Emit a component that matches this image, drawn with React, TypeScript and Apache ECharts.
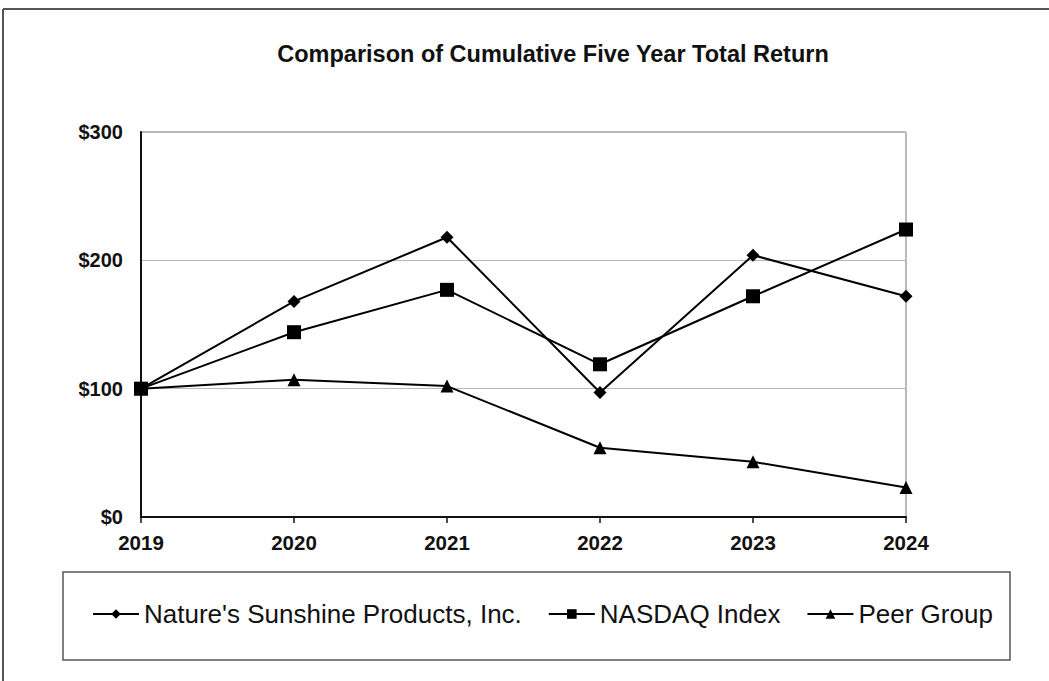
import React, { useEffect, useRef } from "react";
import * as echarts from "echarts";

const years = ["2019", "2020", "2021", "2022", "2023", "2024"];
const natures = [100, 168, 218, 97, 204, 172];
const nasdaq = [100, 144, 177, 119, 172, 224];
const peer = [100, 107, 102, 54, 43, 23];
const yTicks = [0, 100, 200, 300];

export default function App() {
  const ref = useRef<HTMLDivElement>(null);
  useEffect(() => {
    const chart = echarts.init(ref.current!, null, { renderer: "svg" });
    const font = "'Liberation Sans', Arial, sans-serif";
    const lineSeries = (name: string, data: number[], symbol: string, size: number) => ({
      name,
      type: "line",
      data,
      symbol,
      symbolSize: size,
      lineStyle: { color: "#000", width: 2 },
      itemStyle: { color: "#000" },
      emphasis: { disabled: true },
    });
    chart.setOption({
      animation: false,
      backgroundColor: "#fff",
      title: {
        text: "Comparison of Cumulative Five Year Total Return",
        left: 548,
        textAlign: "center",
        top: 37,
        textStyle: { fontFamily: font, fontSize: 23.5, fontWeight: "bold", color: "#111" },
      },
      grid: {
        left: 141,
        right: 143,
        top: 132,
        bottom: 164,
        show: true,
        borderColor: "#777",
        borderWidth: 1,
      },
      xAxis: {
        type: "category",
        data: years,
        boundaryGap: false,
        axisLine: { lineStyle: { color: "#111", width: 2 } },
        axisTick: { show: true, length: 6, lineStyle: { color: "#111", width: 1.5 } },
        axisLabel: { fontFamily: font, fontSize: 20.5, fontWeight: "bold", color: "#111", margin: 15 },
        splitLine: { show: false },
      },
      yAxis: {
        type: "value",
        min: yTicks[0],
        max: yTicks[yTicks.length - 1],
        interval: 100,
        axisLine: { show: true, lineStyle: { color: "#111", width: 2 } },
        axisTick: { show: false },
        axisLabel: {
          fontFamily: font,
          fontSize: 20,
          fontWeight: "bold",
          color: "#111",
          margin: 18,
          formatter: (v: number) => "$" + v,
        },
        splitLine: { show: true, lineStyle: { color: "#b8b8b8", width: 1 } },
      },
      legend: {
        data: ["Nature's Sunshine Products, Inc.", "NASDAQ Index", "Peer Group"],
        left: 92,
        top: 601,
        padding: 0,
        itemWidth: 46,
        itemHeight: 12,
        itemGap: 26,
        selectedMode: false,
        textStyle: { fontFamily: font, fontSize: 26, color: "#111" },
      },
      graphic: [
        {
          type: "rect",
          shape: { x: 63, y: 572, width: 947, height: 88 },
          style: { fill: "none", stroke: "#555", lineWidth: 1.5 },
          silent: true,
        },
        {
          type: "line",
          shape: { x1: 3, y1: 9, x2: 1049, y2: 9 },
          style: { stroke: "#555", lineWidth: 2 },
          silent: true,
        },
        {
          type: "line",
          shape: { x1: 3, y1: 9, x2: 3, y2: 681 },
          style: { stroke: "#555", lineWidth: 2 },
          silent: true,
        },
      ],
      series: [
        lineSeries("Nature's Sunshine Products, Inc.", natures, "diamond", 13),
        lineSeries("NASDAQ Index", nasdaq, "rect", 14),
        lineSeries("Peer Group", peer, "triangle", 13),
      ],
    });
    return () => chart.dispose();
  }, []);
  return (
    <div
      ref={ref}
      style={{ position: "fixed", left: 0, top: 0, width: 1049, height: 681, background: "#fff" }}
    />
  );
}
